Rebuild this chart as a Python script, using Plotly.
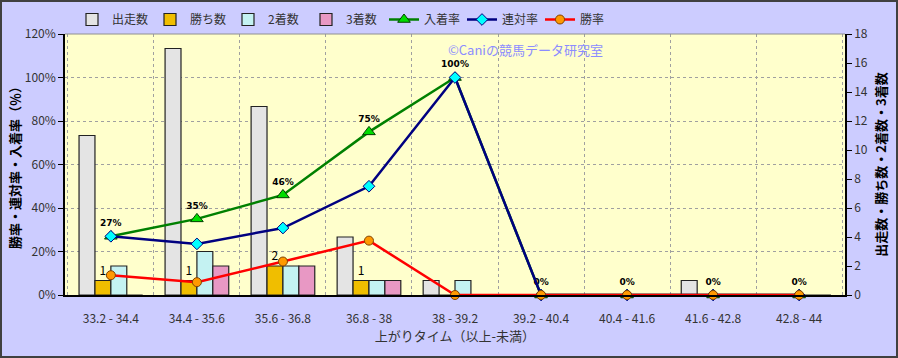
import plotly.graph_objects as go

categories = ["33.2 - 34.4", "34.4 - 35.6", "35.6 - 36.8", "36.8 - 38", "38 - 39.2",
              "39.2 - 40.4", "40.4 - 41.6", "41.6 - 42.8", "42.8 - 44"]
starts = [11, 17, 13, 4, 1, 0, 0, 1, 0]
wins = [1, 1, 2, 1, 0, 0, 0, 0, 0]
seconds = [2, 3, 2, 1, 1, 0, 0, 0, 0]
thirds = [0, 2, 2, 1, 0, 0, 0, 0, 0]
place_rate = [0.27, 0.35, 0.46, 0.75, 1.00, 0, 0, 0, 0]
quinella_rate = [0.27, 0.235, 0.308, 0.50, 1.00, 0, 0, 0, 0]
win_rate = [0.091, 0.059, 0.154, 0.25, 0, 0, 0, 0, 0]
place_labels = ["27%", "35%", "46%", "75%", "100%", "0%", "0%", "0%", "0%"]

JP = "Noto Sans CJK JP"
W, H = 898, 358
ML, MR, MT, MB = 65, 53, 34, 63
PW, PH = W - ML - MR, H - MT - MB

fig = go.Figure()
bar_line = dict(color="#222222", width=1.2)
fig.add_trace(go.Bar(x=categories, y=starts, name="出走数", yaxis="y",
                     marker=dict(color="#E4E4E4", line=bar_line)))
fig.add_trace(go.Bar(x=categories, y=wins, name="勝ち数", yaxis="y",
                     marker=dict(color="#F0BE00", line=bar_line),
                     text=[str(v) if v else "" for v in wins], textposition="outside",
                     textfont=dict(family=JP, size=12, color="#000000"), cliponaxis=False))
fig.add_trace(go.Bar(x=categories, y=seconds, name="2着数", yaxis="y",
                     marker=dict(color="#C4F2F2", line=bar_line)))
fig.add_trace(go.Bar(x=categories, y=thirds, name="3着数", yaxis="y",
                     marker=dict(color="#E898C4", line=bar_line)))

fig.add_trace(go.Scatter(x=categories, y=place_rate, name="入着率", yaxis="y2",
                         mode="lines+markers+text", text=place_labels, textposition="top center",
                         textfont=dict(family="DejaVu Sans", size=9, color="#000000", weight="bold"),
                         line=dict(color="#008000", width=2.5),
                         marker=dict(symbol="triangle-up", size=11, color="#00DD00",
                                     line=dict(color="#004000", width=1)),
                         cliponaxis=False))
fig.add_trace(go.Scatter(x=categories, y=quinella_rate, name="連対率", yaxis="y2",
                         mode="lines+markers",
                         line=dict(color="#000080", width=2.5),
                         marker=dict(symbol="diamond", size=9, color="#00FFFF",
                                     line=dict(color="#000080", width=1)),
                         cliponaxis=False))
fig.add_trace(go.Scatter(x=categories, y=win_rate, name="勝率", yaxis="y2",
                         mode="lines+markers",
                         line=dict(color="#FF0000", width=2.5),
                         marker=dict(symbol="circle", size=9, color="#FF9900",
                                     line=dict(color="#804000", width=1)),
                         cliponaxis=False))

fig.update_layout(
    width=W, height=H,
    margin=dict(l=ML, r=MR, t=MT, b=MB, autoexpand=False),
    paper_bgcolor="#CCCCFF", plot_bgcolor="#FFFFCC",
    font=dict(family=JP, size=12, color="#333333"),
    barmode="group", bargap=0.26, bargroupgap=0,
    showlegend=True,
    legend=dict(orientation="h", x=(72 - ML) / PW, xanchor="left",
                y=1 + (MT - 5) / PH, yanchor="top",
                font=dict(family=JP, size=12, color="#333333"),
                bgcolor="rgba(0,0,0,0)", itemwidth=30, tracegroupgap=0,
                entrywidth=33, entrywidthmode="pixels",
                traceorder="normal"),
    xaxis=dict(type="category", tickson="boundaries", showgrid=True,
               gridcolor="#A0A0A0", griddash="dot", gridwidth=1,
               showline=True, linecolor="#000000", linewidth=1.5,
               ticks="", ticklabelstandoff=12,
               tickfont=dict(family=JP, size=12, color="#333333"),
               title=dict(text="上がりタイム（以上-未満）", font=dict(family=JP, size=13, color="#333333"),
                          standoff=6)),
    yaxis=dict(side="right", range=[0, 18], dtick=2, showgrid=False, zeroline=False,
               showline=True, linecolor="#000000", linewidth=1.5,
               ticks="outside", ticklen=5, tickcolor="#000000",
               tickfont=dict(family=JP, size=12, color="#333333"),
               title=dict(text="出走数・勝ち数・2着数・3着数",
                          font=dict(family=JP, size=13, color="#000000", weight="bold"), standoff=10)),
    yaxis2=dict(side="left", overlaying="y", range=[0, 1.2], dtick=0.2, tickformat=".0%",
                showgrid=True, gridcolor="#A0A0A0", griddash="dot", gridwidth=1, zeroline=False,
                showline=True, linecolor="#000000", linewidth=1.5,
                ticks="outside", ticklen=5, tickcolor="#000000",
                tickfont=dict(family=JP, size=12, color="#333333"),
                title=dict(text="勝率・連対率・入着率（％）",
                           font=dict(family=JP, size=13, color="#000000", weight="bold"), standoff=1)),
    annotations=[dict(text="©Caniの競馬データ研究室", xref="paper", yref="paper",
                      x=(446 - ML) / PW, y=1 - (50 - MT) / PH, xanchor="left", yanchor="middle",
                      showarrow=False, font=dict(family=JP, size=13, color="#8C8CFF"))],
    shapes=[
        dict(type="line", xref="paper", yref="paper", x0=0, x1=1, y0=1, y1=1,
             line=dict(color="#909090", width=1)),
        dict(type="rect", xref="paper", yref="paper",
             x0=-(ML - 1) / PW, x1=1 + (MR - 1) / PW, y0=-(MB - 1) / PH, y1=1 + (MT - 1) / PH,
             line=dict(color="#404040", width=2), layer="above"),
    ],
)

fig.write_html("out.html", config={"displayModeBar": False})
with open("out.html", "r", encoding="utf-8") as f:
    html = f.read()
html = html.replace("<head>", "<head><style>html,body{margin:0;padding:0;overflow:hidden;}</style>", 1)
with open("out.html", "w", encoding="utf-8") as f:
    f.write(html)
